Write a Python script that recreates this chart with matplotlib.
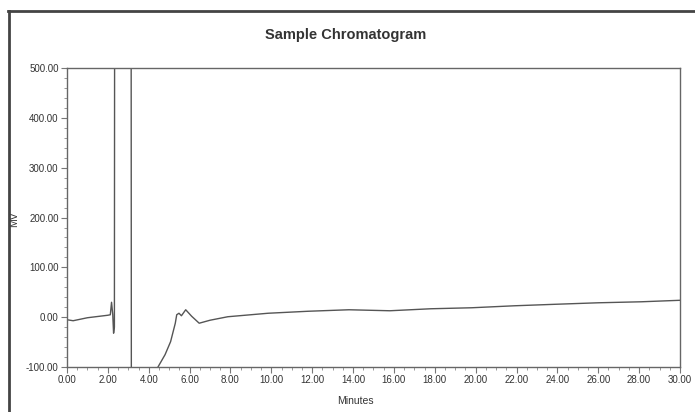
import matplotlib.pyplot as plt
from matplotlib.lines import Line2D
from matplotlib.ticker import MultipleLocator, FormatStrFormatter

minutos = [0.0, 0.3, 1.0, 2.0, 2.12, 2.18, 2.24, 2.28, 2.32, 2.33, 3.14, 3.15,
           4.3, 4.45, 4.8, 5.07, 5.3, 5.37, 5.48, 5.6, 5.81, 6.1, 6.47, 7.0,
           7.87, 9.84, 11.8, 13.8, 15.8, 17.8, 19.8, 21.9, 23.9, 26.0, 28.1, 30.0]
mv = [-5, -7, -1, 4, 5, 30, 5, -32, -20, 560, 560, -200,
      -200, -100, -75, -49, -12, 5, 8, 3, 15, 2, -12, -6,
      1, 8, 12, 15, 13, 17, 19, 23, 26, 29, 31, 34]

x_ticks = [0, 2, 4, 6, 8, 10, 12, 14, 16, 18, 20, 22, 24, 26, 28, 30]
y_ticks = [-100, 0, 100, 200, 300, 400, 500]

fig = plt.figure(figsize=(6.95, 4.12), dpi=100)
ax = fig.add_axes([0.0964, 0.109, 0.882, 0.726])

ax.plot(minutos, mv, color="#555555", linewidth=1.0)

ax.set_xlim(0, 30)
ax.set_ylim(-100, 500)
ax.set_xticks(x_ticks)
ax.set_yticks(y_ticks)
ax.xaxis.set_minor_locator(MultipleLocator(0.5))
ax.yaxis.set_minor_locator(MultipleLocator(20))
ax.xaxis.set_major_formatter(FormatStrFormatter("%.2f"))
ax.yaxis.set_major_formatter(FormatStrFormatter("%.2f"))

fonte = ["Liberation Sans Narrow", "Liberation Sans", "DejaVu Sans"]
for lab in ax.get_xticklabels() + ax.get_yticklabels():
    lab.set_family(fonte)
    lab.set_fontsize(7)
    lab.set_color("#333333")

ax.tick_params(which="major", length=4, width=0.8, color="#777777", pad=2)
ax.tick_params(which="minor", length=2, width=0.7, color="#999999")
for s in ax.spines.values():
    s.set_color("#666666")
    s.set_linewidth(1.0)

ax.set_xlabel("Minutes", fontsize=7.5, family=fonte, color="#333333")
ax.set_ylabel("MV", fontsize=7.5, family=fonte, color="#333333")
ax.xaxis.set_label_coords(0.47, -0.098)
ax.yaxis.set_label_coords(-0.078, 0.495)
fig.text(0.497, 0.915, "Sample Chromatogram", ha="center", va="center",
         fontsize=10.5, fontweight="bold", family=fonte, color="#333333")

# Moldura externa (esquerda e topo)
fig.add_artist(Line2D([0.013, 0.013], [0.0, 0.974], color="#444444", linewidth=2))
fig.add_artist(Line2D([0.012, 1.0], [0.974, 0.974], color="#444444", linewidth=2))

fig.savefig("out.png", dpi=100)
